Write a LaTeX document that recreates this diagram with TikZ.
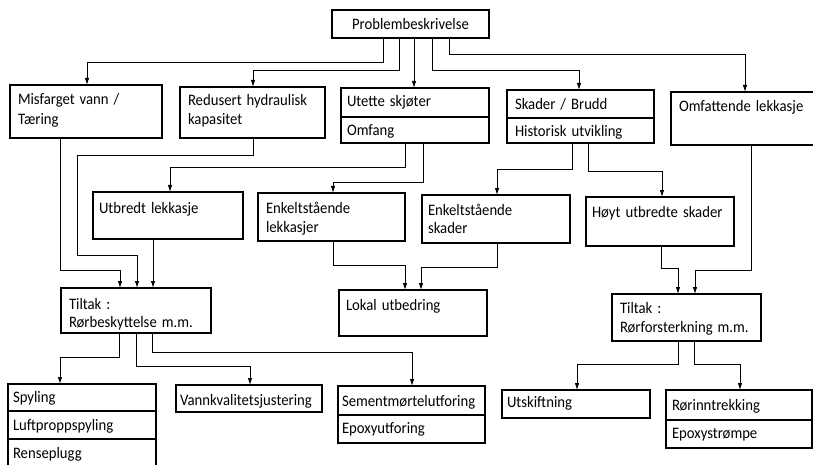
\documentclass[tikz,border=0pt]{standalone}
\usepackage{fontspec}
\setmainfont{Carlito}[WordSpace=1.5,FakeStretch=0.92]
\usetikzlibrary{arrows.meta}
\newcommand\mybox[8]{%
  \pgfmathsetmacro\myBW{#4-#2}%
  \pgfmathsetmacro\myBH{#5-#3}%
  \node[boxn,minimum width=\myBW pt,minimum height=\myBH pt] (#1) at (#2,#3) {};
  \node[txt] (#1-t) at (#6,#7) {#8};}
\begin{document}
\begin{tikzpicture}[x=1pt,y=-1pt,
  boxn/.style={draw,line width=1.1pt,inner sep=0pt,outer sep=0pt,anchor=north west},
  txt/.style={anchor=base west,inner sep=0pt,outer sep=0pt,font=\fontsize{16}{19}\selectfont},
  divl/.style={line width=1.1pt},
  arr/.style={line width=0.9pt,-{Latex[length=7pt,width=4.5pt]}}]
\useasboundingbox (0,0) rectangle (813,465);
\clip (0,0) rectangle (813,465);

% boxes
\node[boxn,minimum width=157pt,minimum height=28pt] (prob) at (332,10) {};
\node[txt,anchor=base] (prob-t) at (410.5,30) {Problembeskrivelse};

\mybox{mis}{10}{85}{162}{138}{18}{105}{Misfarget vann /}
\node[txt] (mis-t2) at (18,125) {Tæring};
\mybox{red}{180}{87}{325}{138}{188}{106}{Redusert hydraulisk}
\node[txt] (red-t2) at (188,125) {kapasitet};
\mybox{ute}{341}{88}{489}{143}{347}{107}{Utette skjøter}
\node[txt] (ute-t2) at (347,136) {Omfang};
\draw[divl] (ute.west |- 0,117) -- (ute.east |- 0,117);
\mybox{ska}{507}{90}{654}{143}{515}{110}{Skader / Brudd}
\node[txt] (ska-t2) at (515,137) {Historisk utvikling};
\draw[divl] (ska.west |- 0,118) -- (ska.east |- 0,118);
\mybox{omf}{671}{92}{822}{145}{679}{112}{Omfattende lekkasje}

\mybox{utb}{93}{192}{243}{239}{99}{213}{Utbredt lekkasje}
\mybox{enl}{258}{193}{405}{241}{266}{213}{Enkeltstående}
\node[txt] (enl-t2) at (266,232) {lekkasjer};
\mybox{ens}{422}{195}{570}{243}{428}{215}{Enkeltstående}
\node[txt] (ens-t2) at (428,233) {skader};
\mybox{hoy}{586}{197}{734}{246}{592}{217}{Høyt utbredte skader}

\mybox{til1}{61}{288}{211}{333}{69}{309}{Tiltak :}
\node[txt] (til1-t2) at (69,327) {Rørbeskyttelse m.m.};
\mybox{lok}{339}{290}{487}{336}{346}{310}{Lokal utbedring}
\mybox{til2}{612}{294}{761}{341}{620}{313}{Tiltak :}
\node[txt] (til2-t2) at (620,332) {Rørforsterkning m.m.};

\mybox{spy}{8}{384}{156}{472}{13}{402}{Spyling}
\node[txt] (spy-t2) at (13,430) {Luftproppspyling};
\node[txt] (spy-t3) at (13,458) {Renseplugg};
\draw[divl] (spy.west |- 0,411) -- (spy.east |- 0,411);
\draw[divl] (spy.west |- 0,439) -- (spy.east |- 0,439);
\mybox{van}{176}{385}{322}{412}{180}{405}{Vannkvalitetsjustering}
\mybox{sem}{338}{386}{485}{443}{342}{406}{Sementmørtelutforing}
\node[txt] (sem-t2) at (342,433) {Epoxyutforing};
\draw[divl] (sem.west |- 0,415) -- (sem.east |- 0,415);
\mybox{uts}{502}{390}{650}{418}{507}{407}{Utskiftning}
\mybox{ror}{666}{390}{812}{448}{672}{410}{Rørinntrekking}
\node[txt] (ror-t2) at (672,438) {Epoxystrømpe};
\draw[divl] (ror.west |- 0,420) -- (ror.east |- 0,420);

% connectors
\draw[arr] (383,0 |- prob.south) |- (87,62) -- (87,0 |- mis.north);
\draw[arr] (399,0 |- prob.south) |- (253,70) -- (253,0 |- red.north);
\draw[arr] (414,0 |- prob.south) -- (414,0 |- ute.north);
\draw[arr] (432,0 |- prob.south) |- (579,70) -- (579,0 |- ska.north);
\draw[arr] (449,0 |- prob.south) |- (745,54) -- (745,0 |- omf.north);

\draw[arr] (60,0 |- mis.south) |- (120,270) -- (120,0 |- til1.north);
\draw[arr] (253,0 |- red.south) |- (77,155) |- (137,255) -- (137,0 |- til1.north);
\draw[arr] (153,0 |- utb.south) -- (153,0 |- til1.north);
\draw[arr] (405,0 |- ute.south) |- (170,167) -- (170,0 |- utb.north);
\draw[arr] (423,0 |- ute.south) |- (333,182) -- (333,0 |- enl.north);
\draw[arr] (572,0 |- ska.south) |- (497,169) -- (497,0 |- ens.north);
\draw[arr] (588,0 |- ska.south) |- (662,171) -- (662,0 |- hoy.north);
\draw[arr] (751,0 |- omf.south) |- (695,270) -- (695,0 |- til2.north);
\draw[arr] (661,0 |- hoy.south) |- (678,268) -- (678,0 |- til2.north);
\draw[arr] (333,0 |- enl.south) |- (405,265) -- (405,0 |- lok.north);
\draw[arr] (497,0 |- ens.south) |- (421,267) -- (421,0 |- lok.north);

\draw[arr] (119,0 |- til1.south) |- (60,357) -- (60,0 |- spy.north);
\draw[arr] (136,0 |- til1.south) |- (250,366) -- (250,0 |- van.north);
\draw[arr] (152,0 |- til1.south) |- (412,352) -- (412,0 |- sem.north);
\draw[arr] (678,0 |- til2.south) |- (577,364) -- (577,0 |- uts.north);
\draw[arr] (694,0 |- til2.south) |- (740,364) -- (740,0 |- ror.north);
\end{tikzpicture}
\end{document}
